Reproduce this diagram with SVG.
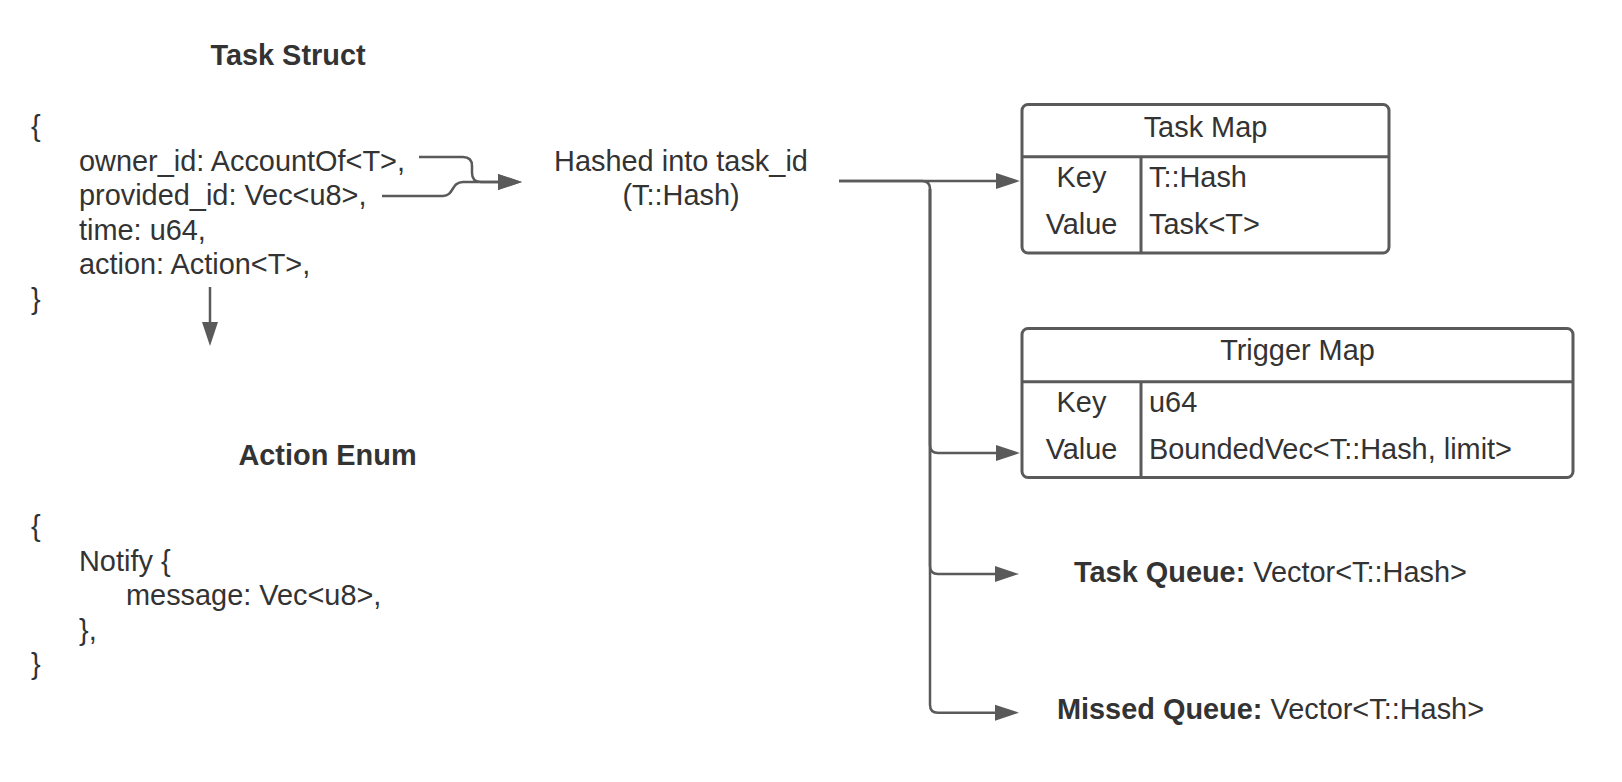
<svg xmlns="http://www.w3.org/2000/svg" width="1622" height="782" viewBox="0 0 1622 782">
<style>
text{font-family:"Liberation Sans",Arial,sans-serif;font-size:28.9px;fill:#333333}
.b{font-weight:bold}
.m{text-anchor:middle}
.box{fill:#ffffff;stroke:#5a5a5a;stroke-width:3}
.div{stroke:#5a5a5a;stroke-width:3;fill:none}
.con{fill:none;stroke:#5a5a5a;stroke-width:2.5;stroke-linejoin:round}
</style>
<defs>
<marker id="arr" markerUnits="userSpaceOnUse" markerWidth="26" markerHeight="18" viewBox="0 -9 26 18" refX="1" refY="0" orient="auto">
<path d="M0,-8 L24,0 L0,8 z" fill="#5a5a5a"/>
</marker>
</defs>
<rect width="1622" height="782" fill="#ffffff"/>

<g id="task-struct">
<text class="b m" x="288" y="65">Task Struct</text>
<text x="31" y="136">{</text>
<text x="79" y="170.5">owner_id: AccountOf&lt;T&gt;,</text>
<text x="79" y="205">provided_id: Vec&lt;u8&gt;,</text>
<text x="79" y="239.5">time: u64,</text>
<text x="79" y="274">action: Action&lt;T&gt;,</text>
<text x="31" y="308.5">}</text>
</g>

<g id="action-enum">
<text class="b m" x="327.5" y="465">Action Enum</text>
<text x="31" y="536">{</text>
<text x="79" y="570.5">Notify {</text>
<text x="126" y="605">message: Vec&lt;u8&gt;,</text>
<text x="79" y="639.5">},</text>
<text x="31" y="674">}</text>
</g>

<g id="hash">
<text class="m" x="681" y="170.5">Hashed into task_id</text>
<text class="m" x="681" y="205">(T::Hash)</text>
</g>

<g id="task-map">
<rect class="box" x="1022" y="104.5" width="367" height="148.5" rx="6"/>
<line class="div" x1="1022" y1="156.7" x2="1389" y2="156.7"/>
<line class="div" x1="1141" y1="156.7" x2="1141" y2="253"/>
<text class="m" x="1205.5" y="136.5">Task Map</text>
<text class="m" x="1081.5" y="186.5">Key</text>
<text class="m" x="1081.5" y="234">Value</text>
<text x="1149" y="186.5">T::Hash</text>
<text x="1149" y="234">Task&lt;T&gt;</text>
</g>

<g id="trigger-map">
<rect class="box" x="1022" y="328.5" width="551" height="149" rx="6"/>
<line class="div" x1="1022" y1="381.7" x2="1573" y2="381.7"/>
<line class="div" x1="1141" y1="381.7" x2="1141" y2="477.5"/>
<text class="m" x="1297.5" y="360">Trigger Map</text>
<text class="m" x="1081.5" y="411.5">Key</text>
<text class="m" x="1081.5" y="459">Value</text>
<text x="1149" y="411.5">u64</text>
<text x="1149" y="459">BoundedVec&lt;T::Hash, limit&gt;</text>
</g>

<g id="task-queue">
<text class="m" x="1270.5" y="581.5"><tspan class="b">Task Queue:</tspan> Vector&lt;T::Hash&gt;</text>
</g>

<g id="missed-queue">
<text class="m" x="1270.5" y="719"><tspan class="b">Missed Queue:</tspan> Vector&lt;T::Hash&gt;</text>
</g>

<g id="connectors">
<path class="con" d="M419,157 H463 Q472,157 472,166 V173 Q472,182 481,182 H499" marker-end="url(#arr)"/>
<path class="con" d="M382,196 H443 C454,196 451,182 463,182 H499" marker-end="url(#arr)"/>
<path class="con" d="M210,287 V323" marker-end="url(#arr)"/>
<path class="con" d="M839,181 H997" marker-end="url(#arr)"/>
<path class="con" d="M839,181 H922 Q930,181 930,189 V445 Q930,453 938,453 H997" marker-end="url(#arr)"/>
<path class="con" d="M930,189 V566 Q930,574 938,574 H996" marker-end="url(#arr)"/>
<path class="con" d="M930,189 V704.7 Q930,712.7 938,712.7 H996" marker-end="url(#arr)"/>
</g>
</svg>
